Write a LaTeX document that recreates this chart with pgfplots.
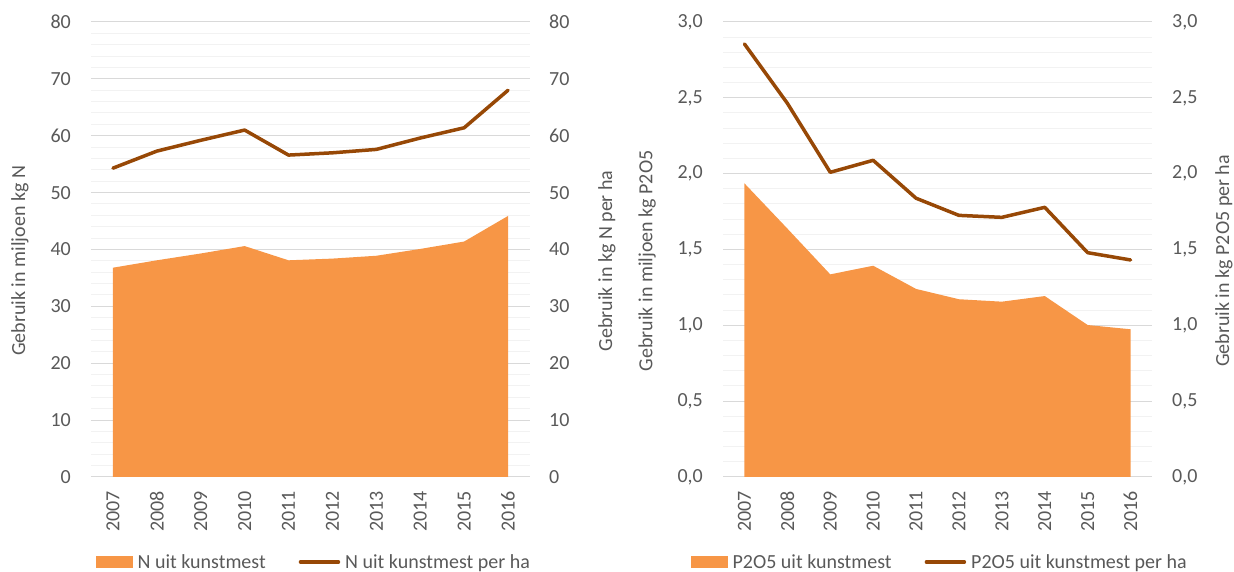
\documentclass[border=0pt]{standalone}
\usepackage{pgfplots}
\pgfplotsset{compat=1.18}
\usepackage{fontspec}
\setmainfont{Carlito}
\definecolor{txt}{HTML}{595959}
\definecolor{areaC}{HTML}{F79646}
\definecolor{lineC}{HTML}{974806}
\definecolor{gmaj}{HTML}{D9D9D9}
\definecolor{gmin}{HTML}{F2F2F2}
\newcommand\fs{\fontsize{20}{24}\selectfont}
\pgfplotsset{
 base/.style={scale only axis, height=455pt, xmin=-0.5, xmax=9.5,
   axis line style={draw=none}, tick style={draw=none},
   ticklabel style={font=\fs, text=txt, inner sep=0pt},
   label style={font=\fs, text=txt},
   /pgf/number format/assume math mode=true, clip=false},
 leftax/.style={base, xtick={0,...,9},
   xticklabels={2007,2008,2009,2010,2011,2012,2013,2014,2015,2016},
   xticklabel style={yshift=-14pt, rotate=90, anchor=east},
   yticklabel style={anchor=east, xshift=-20pt},
   ymajorgrids, yminorgrids, minor y tick num=4,
   major grid style={gmaj, line width=1pt},
   minor grid style={gmin, line width=1pt}},
 rightax/.style={base, axis x line=none, axis y line*=right,
   yticklabel style={anchor=west, xshift=19pt},
   legend columns=2, legend cell align=left,
   legend style={anchor=west, draw=none, fill=none, inner sep=0pt,
     font=\fs, text=txt, nodes={inner sep=0pt},
     /tikz/every odd column/.append style={column sep=5pt},
     /tikz/every even column/.append style={column sep=33pt}}},
}
\begin{document}
\begin{tikzpicture}
\useasboundingbox (0pt,0pt) rectangle (1234pt,572pt);
% ---------- left panel ----------
\begin{axis}[leftax, at={(91pt,95pt)}, anchor=south west, width=439pt,
  ymin=0, ymax=80, ytick={0,10,20,30,40,50,60,70,80},
  ylabel={Gebruik in miljoen kg N},
  ylabel style={at={(axis description cs:-0.1617,0.475)}, anchor=center, rotate=0}]
\addplot[fill=areaC, draw=none] coordinates {
 (0,36.8) (1,38.1) (2,39.3) (3,40.6) (4,38.1) (5,38.4) (6,38.9) (7,40.1) (8,41.4) (9,45.9)} \closedcycle;
\end{axis}
\begin{axis}[rightax, at={(91pt,95pt)}, anchor=south west, width=439pt,
  ymin=0, ymax=80, ytick={0,10,20,30,40,50,60,70,80},
  ylabel={Gebruik in kg N per ha},
  ylabel style={at={(axis description cs:1.1754,0.475)}, anchor=center, rotate=0},
  legend style={at={(axis description cs:0.0114,-0.1868)}}]
\addlegendimage{legend image code/.code={\fill[areaC] (0pt,-5.5pt) rectangle (36pt,5.5pt);}}
\addlegendentry{N uit kunstmest}
\addplot[lineC, line width=3.5pt, line join=round, line cap=round,
  legend image code/.code={\draw[lineC, line width=3.5pt] (0pt,0pt) -- (38pt,0pt);}] coordinates {
 (0,54.3) (1,57.3) (2,59.2) (3,61.0) (4,56.6) (5,57.0) (6,57.6) (7,59.6) (8,61.4) (9,68.0)};
\addlegendentry{N uit kunstmest per ha}
\end{axis}
% ---------- right panel ----------
\begin{axis}[leftax, at={(723pt,95pt)}, anchor=south west, width=429pt,
  ymin=0, ymax=3, ytick={0,0.5,1,1.5,2,2.5,3},
  yticklabels={{0,0},{0,5},{1,0},{1,5},{2,0},{2,5},{3,0}},
  ylabel={Gebruik in miljoen kg P2O5},
  ylabel style={at={(axis description cs:-0.177,0.475)}, anchor=center, rotate=0}]
\addplot[fill=areaC, draw=none] coordinates {
 (0,1.936) (1,1.638) (2,1.336) (3,1.393) (4,1.240) (5,1.172) (6,1.156) (7,1.193) (8,1.002) (9,0.974)} \closedcycle;
\end{axis}
\begin{axis}[rightax, at={(723pt,95pt)}, anchor=south west, width=429pt,
  ymin=0, ymax=3, ytick={0,0.5,1,1.5,2,2.5,3},
  yticklabels={{0,0},{0,5},{1,0},{1,5},{2,0},{2,5},{3,0}},
  yticklabel style={xshift=1pt},
  ylabel={Gebruik in kg P2O5 per ha},
  ylabel style={at={(axis description cs:1.1678,0.475)}, anchor=center, rotate=0},
  legend style={at={(axis description cs:-0.0746,-0.1868)}}]
\addlegendimage{legend image code/.code={\fill[areaC] (0pt,-5.5pt) rectangle (36pt,5.5pt);}}
\addlegendentry{P2O5 uit kunstmest}
\addplot[lineC, line width=3.5pt, line join=round, line cap=round,
  legend image code/.code={\draw[lineC, line width=3.5pt] (0pt,0pt) -- (38pt,0pt);}] coordinates {
 (0,2.855) (1,2.464) (2,2.009) (3,2.088) (4,1.838) (5,1.725) (6,1.712) (7,1.778) (8,1.479) (9,1.431)};
\addlegendentry{P2O5 uit kunstmest per ha}
\end{axis}
\end{tikzpicture}
\end{document}
